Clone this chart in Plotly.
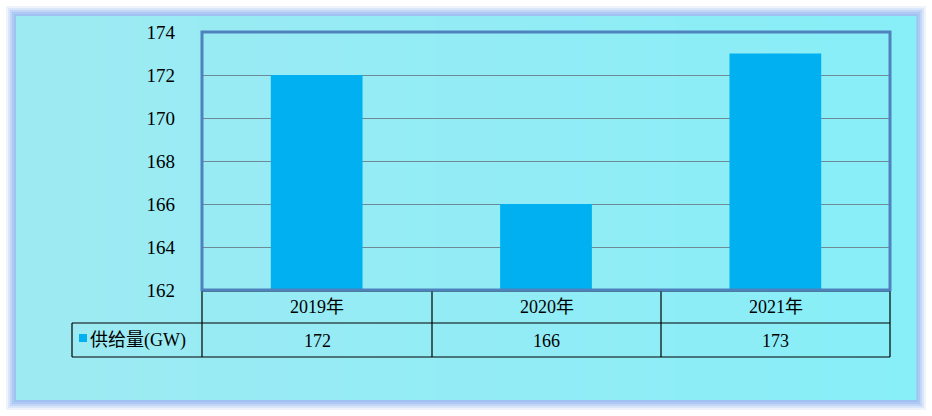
import plotly.graph_objects as go

# ---- data ----
years = ["2019年", "2020年", "2021年"]
supply = [172, 166, 173]
series_name = "供给量(GW)"
y_ticks = [162, 164, 166, 168, 170, 172, 174]

W, H = 932, 416
PL, PR, PT, PB = 202, 890, 32, 290  # plot area pixels
BAR = "#00B0F0"
FONT = "Liberation Serif, Noto Sans CJK SC, serif"


def px(x):
    return (x - PL) / (PR - PL)


def py(y):
    return (PB - y) / (PB - PT)


fig = go.Figure()
fig.add_trace(go.Bar(x=years, y=supply, name=series_name, marker_color=BAR,
                     marker_line_width=0, showlegend=False))

shapes = []
# glow border (soft, layered)
glow = [(10, "rgba(190,210,245,0.25)"), (8, "rgba(180,205,245,0.35)"),
        (6, "rgba(170,198,242,0.5)"), (4, "rgba(165,195,242,0.7)"),
        (2, "rgba(160,192,240,0.9)")]
for d, c in glow:
    shapes.append(dict(type="rect", xref="paper", yref="paper", layer="below",
                       x0=px(16 - d), x1=px(916 + d), y0=py(16 - d), y1=py(400 + d),
                       fillcolor=c, line_width=0))
# gradient background strips
n = 30
c0 = (0x9E, 0xEA, 0xF2)
c1 = (0x88, 0xEE, 0xF8)
x_start, x_end = 16, 916
for i in range(n):
    t = i / (n - 1)
    col = tuple(round(c0[k] + (c1[k] - c0[k]) * t) for k in range(3))
    xa = x_start + (x_end - x_start) * i / n
    xb = x_start + (x_end - x_start) * (i + 1) / n + 0.5
    shapes.append(dict(type="rect", xref="paper", yref="paper", layer="below",
                       x0=px(xa), x1=px(xb), y0=py(16), y1=py(400),
                       fillcolor="rgb(%d,%d,%d)" % col, line_width=0))

# table lines
tcol = [72, 202, 432, 661, 890]
trow = [291, 323, 357]
LC = "#000000"
shapes.append(dict(type="line", xref="paper", yref="paper", x0=px(202), x1=px(890),
                   y0=py(291), y1=py(291), line=dict(color=LC, width=1.2)))
for yy in trow[1:]:
    shapes.append(dict(type="line", xref="paper", yref="paper", x0=px(72), x1=px(890),
                       y0=py(yy), y1=py(yy), line=dict(color=LC, width=1.2)))
for xx in tcol[1:]:
    shapes.append(dict(type="line", xref="paper", yref="paper", x0=px(xx), x1=px(xx),
                       y0=py(291), y1=py(357), line=dict(color=LC, width=1.2)))
shapes.append(dict(type="line", xref="paper", yref="paper", x0=px(72), x1=px(72),
                   y0=py(323), y1=py(357), line=dict(color=LC, width=1.2)))
# legend square
shapes.append(dict(type="rect", xref="paper", yref="paper", x0=px(79), x1=px(87),
                   y0=py(334), y1=py(342), fillcolor=BAR, line_width=0))
# plot border
shapes.append(dict(type="rect", xref="paper", yref="paper", x0=0, x1=1, y0=0, y1=1,
                   line=dict(color="#4F81BD", width=3)))

annotations = []
tf = dict(family=FONT, size=18, color="#000")
for i, (yr, v) in enumerate(zip(years, supply)):
    cx = (tcol[i + 1] + tcol[i + 2]) / 2
    annotations.append(dict(x=px(cx), y=py(307), xref="paper", yref="paper", text=yr,
                            xanchor="center", yanchor="middle", showarrow=False, font=tf))
    annotations.append(dict(x=px(cx), y=py(341), xref="paper", yref="paper", text=str(v),
                            xanchor="center", yanchor="middle", showarrow=False, font=tf))
annotations.append(dict(x=px(88), y=py(340), xref="paper", yref="paper", text=series_name,
                        xanchor="left", yanchor="middle", showarrow=False, font=tf))

fig.update_layout(
    width=W, height=H,
    margin=dict(l=PL, r=W - PR, t=PT, b=H - PB, pad=0),
    paper_bgcolor="white", plot_bgcolor="rgba(0,0,0,0)",
    bargap=0.6,
    shapes=shapes, annotations=annotations,
    xaxis=dict(showticklabels=False, showgrid=False, zeroline=False, showline=False),
    yaxis=dict(range=[162, 174], tickvals=y_ticks, showgrid=True, gridcolor="#6E8A96",
               gridwidth=1, zeroline=False, showline=False, ticks="",
               ticklabelstandoff=26,
               tickfont=dict(family=FONT, size=19, color="#000")),
)

fig.write_html("out.html", config={"displayModeBar": False},
               post_script="document.body.style.margin='0';")
